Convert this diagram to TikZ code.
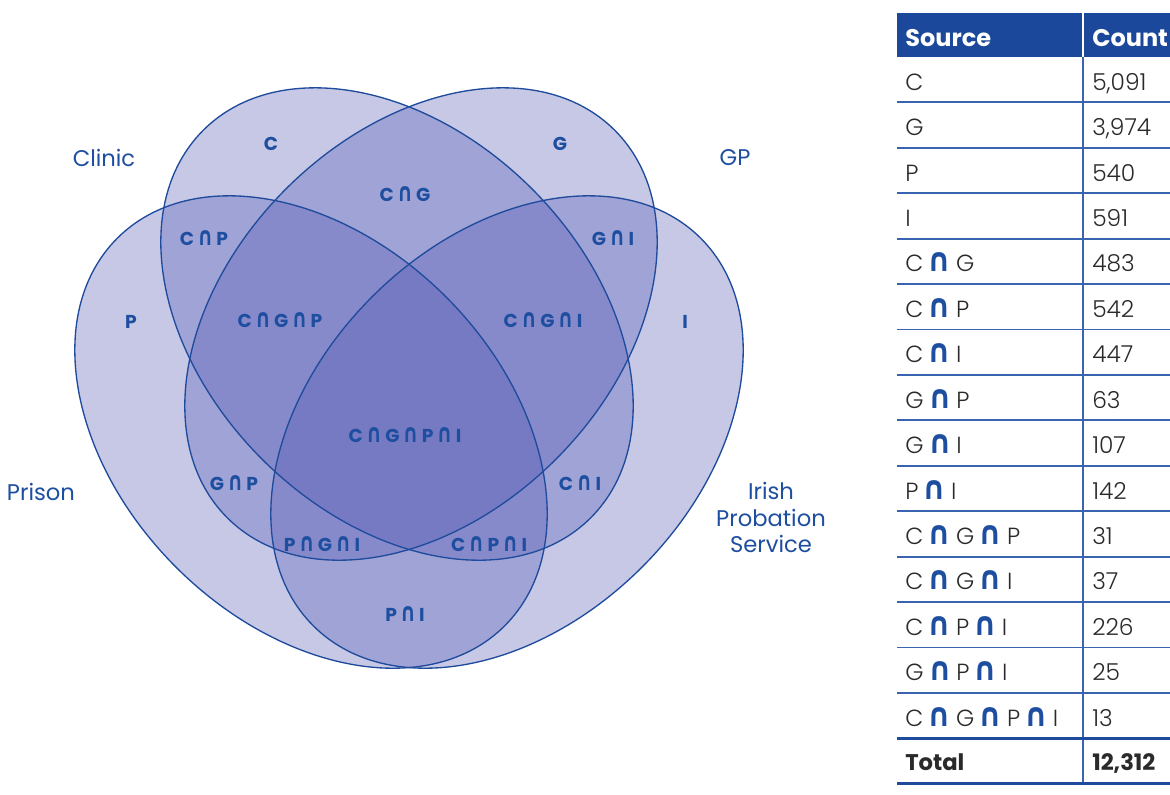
\documentclass[tikz,border=0pt]{standalone}
\usepackage{graphicx}
\usepackage{fontspec}
\setmainfont{Poppins}
\newfontfamily\lightfont{Poppins Light}
\newfontfamily\symfont{DejaVu Sans}
\definecolor{edge}{HTML}{1F4B9D}
\definecolor{setfill}{RGB}{84,90,180}
\definecolor{lbl}{HTML}{1E4EA0}
\definecolor{hdr}{HTML}{1B489B}
\definecolor{rulec}{HTML}{3A63B0}
\definecolor{ink}{HTML}{2A2A2A}
\newcommand\rcap{\hspace{2.4pt}\scalebox{1.05}[1.38]{\symfont\bfseries ∩}\hspace{2.4pt}}
\newcommand\tcap{\hspace{3.4pt}\scalebox{1.25}[1.4]{\symfont\bfseries\color{lbl}∩}\hspace{3.4pt}}
\begin{document}
\begin{tikzpicture}[x=0.75pt,y=-0.75pt,
  region/.style={font=\bfseries\fontsize{14}{16}\selectfont, text=lbl, inner sep=0pt},
  setname/.style={font=\fontsize{17}{20}\selectfont, text=lbl, inner sep=0pt},
  cell/.style={font=\lightfont\fontsize{17.5}{20}\selectfont, text=ink, anchor=base west, inner sep=0pt},
  totcell/.style={font=\bfseries\fontsize{17}{20}\selectfont, text=ink, anchor=base west, inner sep=0pt},
  hcell/.style={font=\bfseries\fontsize{18}{21}\selectfont, text=white, anchor=base west, inner sep=0pt},
  rowline/.style={draw=rulec, line width=1.4pt},
  strongline/.style={draw=edge, line width=1.8pt}]
\fill[white] (0,0) rectangle (1170,794);
\useasboundingbox (0,0) rectangle (1170,794);
% ---- Venn sets
\coordinate (cC) at (397,324);
\coordinate (cG) at (421,324);
\coordinate (cP) at (311,432);
\coordinate (cI) at (507,432);
\begin{scope}[fill opacity=0.333]
\fill[setfill, rotate around={-45:(cC)}] (cC) ellipse [x radius=205.5pt, y radius=143.25pt];
\fill[setfill, rotate around={45:(cG)}] (cG) ellipse [x radius=205.5pt, y radius=143.25pt];
\fill[setfill, rotate around={-45:(cP)}] (cP) ellipse [x radius=205.5pt, y radius=143.25pt];
\fill[setfill, rotate around={45:(cI)}] (cI) ellipse [x radius=205.5pt, y radius=143.25pt];
\end{scope}
\begin{scope}[draw=edge, line width=1pt]
\draw[rotate around={-45:(cC)}] (cC) ellipse [x radius=205.5pt, y radius=143.25pt];
\draw[rotate around={45:(cG)}] (cG) ellipse [x radius=205.5pt, y radius=143.25pt];
\draw[rotate around={-45:(cP)}] (cP) ellipse [x radius=205.5pt, y radius=143.25pt];
\draw[rotate around={45:(cI)}] (cI) ellipse [x radius=205.5pt, y radius=143.25pt];
\end{scope}
% ---- region labels
\node[region] (rC) at (271,144) {C};
\node[region] (rG) at (560,144) {G};
\node[region] (rCG) at (405,194) {C\rcap G};
\node[region] (rCP) at (204,238) {C\rcap P};
\node[region] (rGI) at (613,238) {G\rcap I};
\node[region] (rP) at (131,322) {P};
\node[region] (rCGP) at (280,320) {C\rcap G\rcap P};
\node[region] (rCGI) at (543,320) {C\rcap G\rcap I};
\node[region] (rI) at (685,322) {I};
\node[region] (rAll) at (405,435) {C\rcap G\rcap P\rcap I};
\node[region] (rGP) at (234,483) {G\rcap P};
\node[region] (rCI) at (580,483) {C\rcap I};
\node[region] (rPGI) at (322,544) {P\rcap G\rcap I};
\node[region] (rCPI) at (489,544) {C\rcap P\rcap I};
\node[region] (rPI) at (405,614) {P\rcap I};
% ---- set names
\node[setname, anchor=base] (nC) at (104,166) {Clinic};
\node[setname, anchor=base] (nG) at (735,165) {GP};
\node[setname, anchor=base] (nP) at (41,500) {Prison};
\node[setname, anchor=north, align=center, font=\fontsize{17}{19.9}\selectfont] (nI) at (771,482) {Irish\\Probation\\Service};
% ---- table
\fill[hdr] (897,12.7) rectangle (1170,57);
\draw[white, line width=1.6pt] (1083.3,12.7) -- (1083.3,57);
\draw[rulec, line width=1.4pt] (1083.3,57) -- (1083.3,783.3);
\foreach \k in {1,...,14} {
  \draw[rowline] (897,{57+45.42*\k}) -- (1170,{57+45.42*\k});
}
\draw[strongline] (897,738.3) -- (1170,738.3);
\draw[strongline] (897,783.3) -- (1170,783.3);
\node[hcell] (hS) at (905,46) {Source};
\node[hcell] (hN) at (1092,46) {Count};
\foreach \k/\s/\n in {1/C/{5,091}, 2/G/{3,974}, 3/P/540, 4/I/591,
  5/{C\tcap G}/483, 6/{C\tcap P}/542, 7/{C\tcap I}/447, 8/{G\tcap P}/63,
  9/{G\tcap I}/107, 10/{P\tcap I}/142, 11/{C\tcap G\tcap P}/31,
  12/{C\tcap G\tcap I}/37, 13/{C\tcap P\tcap I}/226, 14/{G\tcap P\tcap I}/25,
  15/{C\tcap G\tcap P\tcap I}/13} {
  \node[cell] (s\k) at (905,{57+45.42*(\k-0.5)+10.5}) {\s};
  \node[cell] (n\k) at (1092,{57+45.42*(\k-0.5)+10.5}) {\n};
}
\node[totcell] (sT) at (905,770) {Total};
\node[totcell] (nT) at (1092,770) {12,312};
\end{tikzpicture}
\end{document}
